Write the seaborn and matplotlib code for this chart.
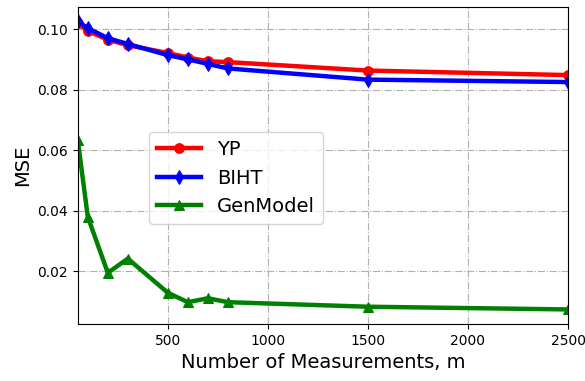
import matplotlib
matplotlib.use("Agg")
import matplotlib.pyplot as plt
import seaborn as sns
import pandas as pd

m_values = [50, 100, 200, 300, 500, 600, 700, 800, 1500, 2500]
mse_yp = [0.1020, 0.0995, 0.0966, 0.0948, 0.0922, 0.0907, 0.0895, 0.0892, 0.0864, 0.0849]
mse_biht = [0.1027, 0.1004, 0.0971, 0.0952, 0.0915, 0.0901, 0.0886, 0.0871, 0.0834, 0.0826]
mse_gen = [0.0633, 0.0380, 0.0195, 0.0242, 0.0129, 0.0098, 0.0111, 0.0098, 0.0083, 0.0074]

series = [
    ("YP", mse_yp, "red", "o"),
    ("BIHT", mse_biht, "blue", "d"),
    ("GenModel", mse_gen, "green", "^"),
]

fig, ax = plt.subplots(figsize=(5.85, 3.81), dpi=100)
fig.subplots_adjust(left=0.133, right=0.971, bottom=0.150, top=0.982)

for name, vals, color, mk in series:
    df = pd.DataFrame({"m": m_values, "mse": vals})
    sns.lineplot(data=df, x="m", y="mse", ax=ax, color=color, marker=mk,
                 markersize=7, markeredgecolor=color, linewidth=3.2, label=name)

ax.set_xlim(50, 2500)
ax.set_xticks([500, 1000, 1500, 2000, 2500])
ax.set_yticks([0.02, 0.04, 0.06, 0.08, 0.10])
ax.grid(True, linestyle="-.", color="#b0b0b0", linewidth=0.8)
ax.set_xlabel("Number of Measurements, m", fontsize=14)
ax.set_ylabel("MSE", fontsize=14)
ax.tick_params(labelsize=10)
ax.legend(fontsize=14, loc="center left", bbox_to_anchor=(0.125, 0.46),
          handlelength=2.3)

fig.savefig("out.png", dpi=100)
